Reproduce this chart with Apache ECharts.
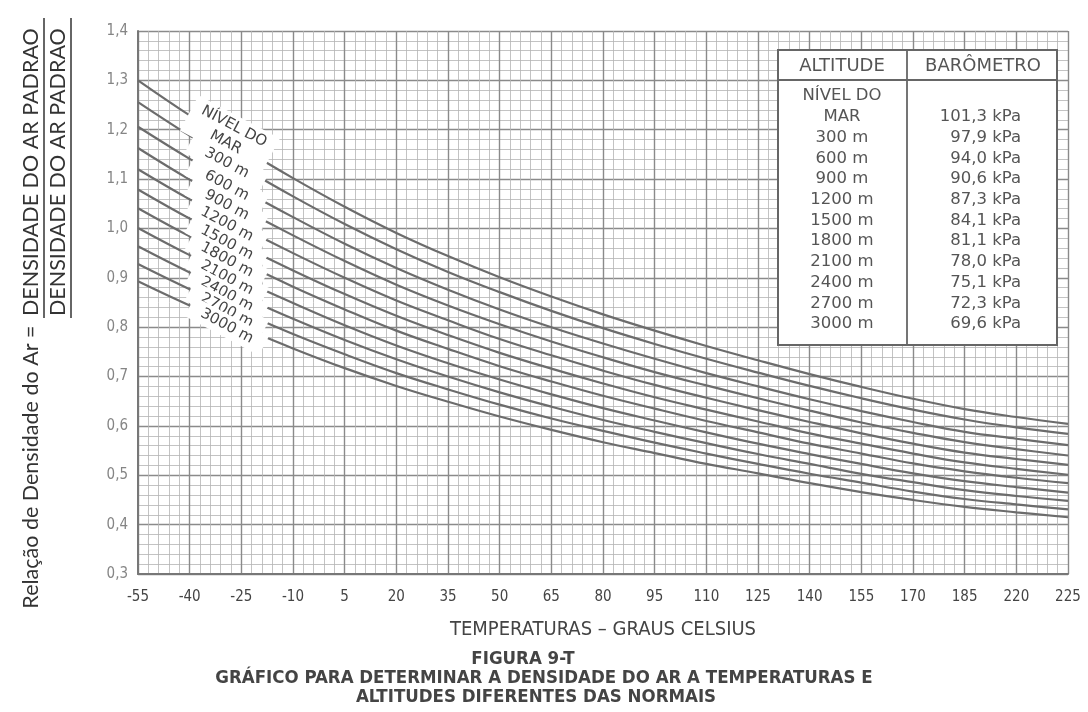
<!DOCTYPE html>
<html>
<head>
<meta charset="utf-8">
<script src="https://cdn.jsdelivr.net/npm/echarts@6/dist/echarts.min.js"></script>
<style>
html,body{margin:0;padding:0;background:#fff;}
#chart{width:1088px;height:712px;}
</style>
</head>
<body>
<div id="chart"></div>
<script>
// Tick labels of the temperature axis (°C)
const temps = ['-55','-40','-25','-10','5','20','35','50','65','80','95','110','125','140','155','170','185','220','225'];

// Air density ratio curves, one value per temperature tick
const seaLevel = [1.300,1.229,1.164,1.102,1.044,0.991,0.944,0.901,0.862,0.826,0.793,0.762,0.733,0.705,0.679,0.655,0.634,0.618,0.604];
const alt300   = [1.256,1.188,1.125,1.065,1.009,0.958,0.912,0.871,0.833,0.798,0.766,0.736,0.708,0.681,0.656,0.633,0.613,0.597,0.584];
const alt600   = [1.206,1.141,1.080,1.023,0.969,0.920,0.876,0.836,0.800,0.767,0.736,0.707,0.680,0.654,0.630,0.608,0.588,0.574,0.561];
const alt900   = [1.163,1.099,1.041,0.986,0.934,0.886,0.844,0.806,0.771,0.739,0.709,0.682,0.656,0.631,0.607,0.586,0.567,0.553,0.540];
const alt1200  = [1.120,1.059,1.003,0.950,0.900,0.854,0.814,0.776,0.743,0.712,0.683,0.657,0.632,0.608,0.585,0.564,0.546,0.533,0.521];
const alt1500  = [1.079,1.020,0.966,0.915,0.867,0.823,0.784,0.748,0.716,0.686,0.658,0.633,0.609,0.585,0.564,0.544,0.526,0.513,0.501];
const alt1800  = [1.041,0.984,0.932,0.882,0.836,0.793,0.756,0.721,0.690,0.661,0.635,0.610,0.587,0.564,0.544,0.524,0.508,0.495,0.484];
const alt2100  = [1.001,0.946,0.896,0.849,0.804,0.763,0.727,0.694,0.664,0.636,0.611,0.587,0.564,0.543,0.523,0.504,0.488,0.476,0.465];
const alt2400  = [0.964,0.911,0.863,0.817,0.774,0.735,0.700,0.668,0.639,0.612,0.588,0.565,0.543,0.523,0.503,0.486,0.470,0.458,0.448];
const alt2700  = [0.928,0.877,0.831,0.786,0.745,0.707,0.674,0.643,0.615,0.590,0.566,0.544,0.523,0.503,0.485,0.467,0.452,0.441,0.431];
const alt3000  = [0.893,0.844,0.800,0.757,0.717,0.681,0.649,0.619,0.592,0.567,0.545,0.523,0.504,0.484,0.466,0.450,0.436,0.425,0.415];

// Curve labels and legend table
const curveLabels = ['NÍVEL DO\nMAR','300 m','600 m','900 m','1200 m','1500 m','1800 m','2100 m','2400 m','2700 m','3000 m'];
const altitudes = ['NÍVEL DO\nMAR','300 m','600 m','900 m','1200 m','1500 m','1800 m','2100 m','2400 m','2700 m','3000 m'];
const pressures = ['101,3 kPa','97,9 kPa','94,0 kPa','90,6 kPa','87,3 kPa','84,1 kPa','81,1 kPa','78,0 kPa','75,1 kPa','72,3 kPa','69,6 kPa'];

const curves = [seaLevel,alt300,alt600,alt900,alt1200,alt1500,alt1800,alt2100,alt2400,alt2700,alt3000];

const COND = "'DejaVu Sans Condensed','DejaVu Sans',sans-serif";
const SANS = "'DejaVu Sans',sans-serif";
const chart = echarts.init(document.getElementById('chart'), null, {renderer:'canvas'});

const series = curves.map((vals, k) => ({
  type: 'line',
  name: curveLabels[k],
  data: vals.map((v, i) => [i, v]),
  smooth: 0.4,
  showSymbol: false,
  silent: true,
  lineStyle: { color: '#6c6c6c', width: 2.2 },
  z: 3
}));

chart.setOption({
  animation: false,
  backgroundColor: '#ffffff',
  grid: { left: 138, right: 20, top: 31, bottom: 138 },
  xAxis: {
    type: 'value', min: 0, max: 18, interval: 1,
    axisLine: { show: true, lineStyle: { color: '#777', width: 2 } },
    axisTick: { show: false },
    axisLabel: { formatter: v => temps[Math.round(v)], color: '#444', fontSize: 15, fontFamily: COND, margin: 16 },
    splitLine: { show: true, lineStyle: { color: '#8a8a8a', width: 1.4 } },
    minorTick: { show: false, splitNumber: 5 },
    minorSplitLine: { show: true, lineStyle: { color: '#b4b4b4', width: 0.8 } },
    name: 'TEMPERATURAS – GRAUS CELSIUS',
    nameLocation: 'middle', nameGap: 46,
    nameTextStyle: { color: '#444', fontSize: 20, fontFamily: COND }
  },
  yAxis: {
    type: 'value', min: 0.3, max: 1.4, interval: 0.1,
    axisLine: { show: true, lineStyle: { color: '#777', width: 2 } },
    axisTick: { show: false },
    axisLabel: { formatter: v => v.toFixed(1).replace('.', ','), color: '#858585', fontSize: 15, fontFamily: COND, margin: 10 },
    splitLine: { show: true, lineStyle: { color: '#8a8a8a', width: 1.4 } },
    minorTick: { show: false, splitNumber: 5 },
    minorSplitLine: { show: true, lineStyle: { color: '#b4b4b4', width: 0.8 } }
  },
  series: series
});

// ---- decorations built from the axes ----
const graphics = [];
const rot = -28 * Math.PI / 180;
curves.forEach((vals, k) => {
  const t = 0.72;
  const v = vals[1] + (vals[2] - vals[1]) * t;
  const p = chart.convertToPixel({ gridIndex: 0 }, [1 + t, v]);
  const two = k === 0;
  graphics.push({
    type: 'text', z: 50,
    x: p[0] + (two ? 3 : 0), y: p[1] + (two ? -4 : 5),
    rotation: rot,
    style: {
      text: curveLabels[k],
      fontSize: 15, fontFamily: SANS,
      fill: '#444', align: 'center', verticalAlign: 'middle',
      lineHeight: 18,
      backgroundColor: '#fff',
      width: two ? 84 : 76,
      padding: [2, 4]
    }
  });
});

// Legend table
const bx = 778, by = 50, bw = 279, bh = 295, divX = 907;
graphics.push({ type: 'rect', z: 60, shape: { x: bx, y: by, width: bw, height: bh }, style: { fill: '#fff', stroke: '#666', lineWidth: 2 } });
graphics.push({ type: 'line', z: 61, shape: { x1: divX, y1: by, x2: divX, y2: by + bh }, style: { stroke: '#666', lineWidth: 1.8 } });
graphics.push({ type: 'line', z: 61, shape: { x1: bx, y1: by + 30, x2: bx + bw, y2: by + 30 }, style: { stroke: '#666', lineWidth: 1.8 } });
graphics.push({ type: 'text', z: 62, x: 842, y: by + 16, style: { text: 'ALTITUDE', fontSize: 18, fontFamily: SANS, fill: '#555', align: 'center', verticalAlign: 'middle' } });
graphics.push({ type: 'text', z: 62, x: 983, y: by + 16, style: { text: 'BARÔMETRO', fontSize: 18, fontFamily: SANS, fill: '#555', align: 'center', verticalAlign: 'middle' } });
altitudes.forEach((a, i) => {
  const y = 117 + i * 20.7;
  const lines = a.split('\n');
  lines.forEach((ln, j) => {
    graphics.push({ type: 'text', z: 62, x: 842, y: y - (lines.length - 1 - j) * 21, style: { text: ln, fontSize: 16.5, fontFamily: SANS, fill: '#555', align: 'center', verticalAlign: 'middle' } });
  });
  graphics.push({ type: 'text', z: 62, x: 1021, y: y, style: { text: pressures[i], fontSize: 16.5, fontFamily: SANS, fill: '#555', align: 'right', verticalAlign: 'middle' } });
});

// Left axis title (rotated)
const TF = "Lato,'Open Sans',sans-serif";
graphics.push({ type: 'text', z: 70, x: 31, y: 320, rotation: Math.PI / 2, style: { text: 'Relação de Densidade do Ar = ', fontSize: 21.5, fontFamily: TF, fill: '#333', align: 'right', verticalAlign: 'middle' } });
graphics.push({ type: 'text', z: 70, x: 31, y: 316, rotation: Math.PI / 2, style: { text: 'DENSIDADE DO AR PADRAO', fontSize: 21.5, fontFamily: TF, fill: '#333', align: 'left', verticalAlign: 'middle' } });
graphics.push({ type: 'text', z: 70, x: 58, y: 316, rotation: Math.PI / 2, style: { text: 'DENSIDADE DO AR PADRAO', fontSize: 21.5, fontFamily: TF, fill: '#333', align: 'left', verticalAlign: 'middle' } });
graphics.push({ type: 'line', z: 70, shape: { x1: 44, y1: 18, x2: 44, y2: 318 }, style: { stroke: '#333', lineWidth: 1.5 } });
graphics.push({ type: 'line', z: 70, shape: { x1: 71, y1: 18, x2: 71, y2: 318 }, style: { stroke: '#333', lineWidth: 1.5 } });

// Figure caption
const FB = { fontSize: 18.5, fontWeight: 'bold', fontFamily: COND, fill: '#444', align: 'center', verticalAlign: 'middle' };
graphics.push({ type: 'text', z: 70, x: 523, y: 659, style: Object.assign({ text: 'FIGURA 9-T' }, FB) });
graphics.push({ type: 'text', z: 70, x: 544, y: 678, style: Object.assign({ text: 'GRÁFICO PARA DETERMINAR A DENSIDADE DO AR A TEMPERATURAS E' }, FB) });
graphics.push({ type: 'text', z: 70, x: 536, y: 697, style: Object.assign({ text: 'ALTITUDES DIFERENTES DAS NORMAIS' }, FB) });

chart.setOption({ graphic: { elements: graphics } });
</script>
</body>
</html>
